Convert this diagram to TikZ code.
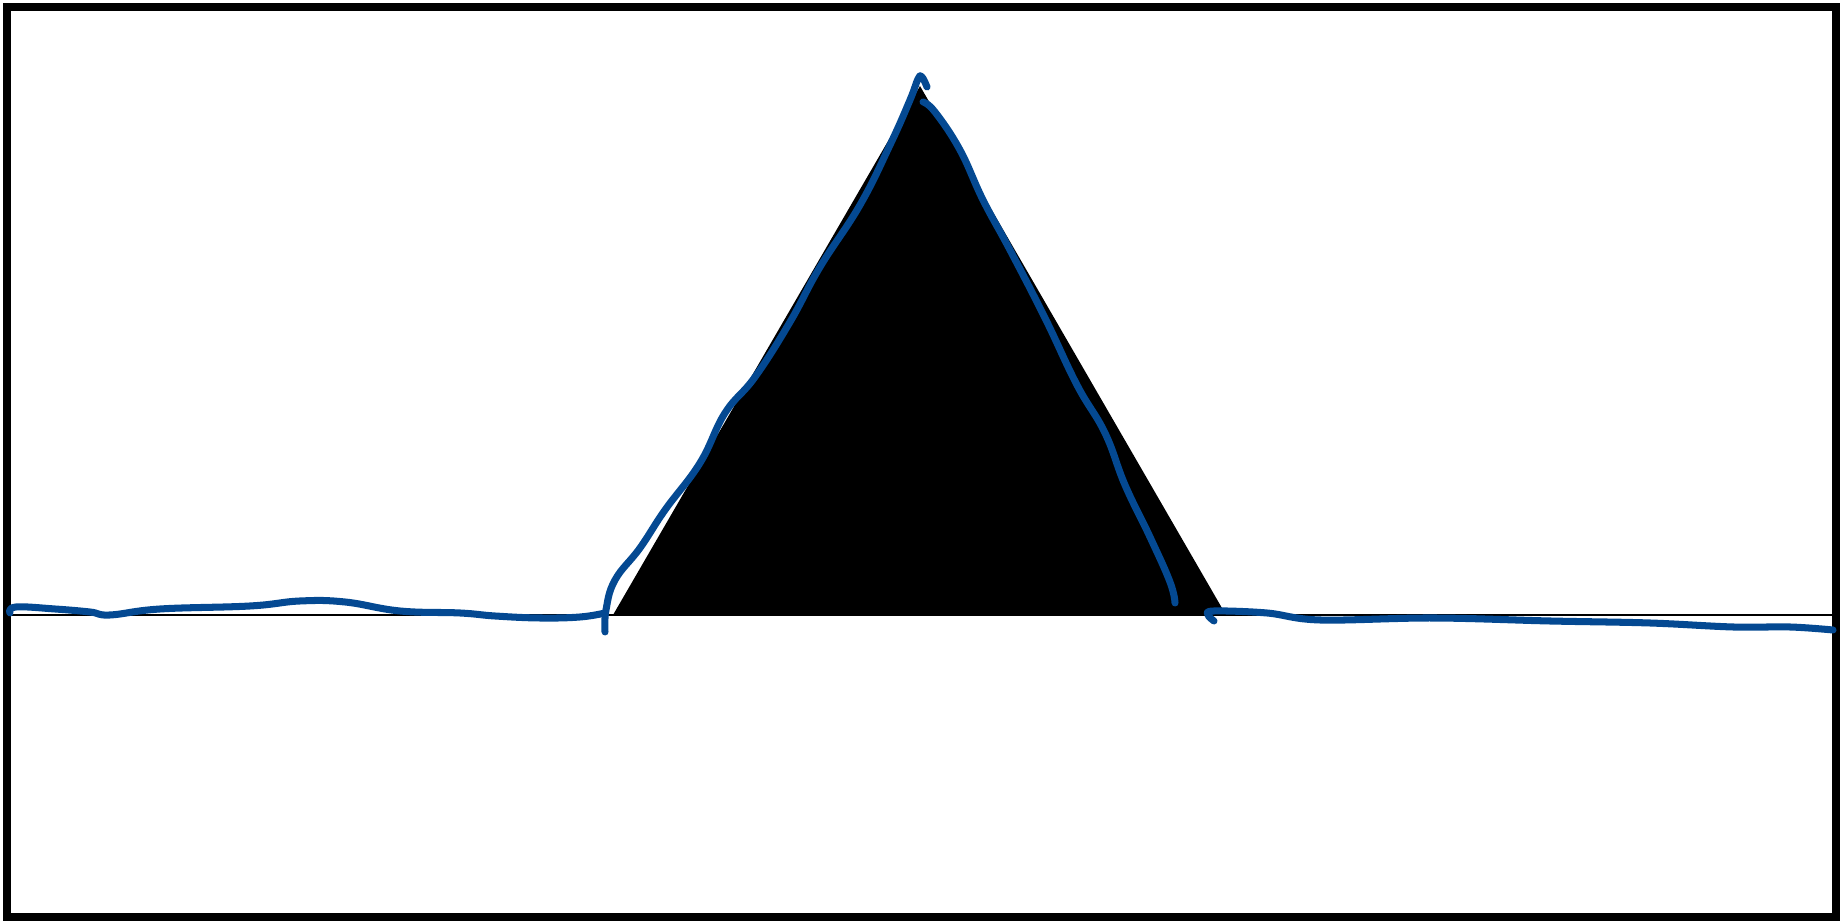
\documentclass[tikz,border=0pt]{standalone}
\usepackage{tikz}
\usetikzlibrary{calc}
\definecolor{penblue}{RGB}{4,73,146}
\tikzset{
  frame/.style={line width=2.1pt},
  ground/.style={line width=0.7pt},
  ink/.style={penblue, line width=2pt, line cap=round, line join=round},
}

\begin{document}
\begin{tikzpicture}[x=0.1mm, y=-0.1mm]
  % Page window
  \useasboundingbox (0,0) rectangle (1842,921);
  \draw[frame] (7,7) rectangle (1836,917);

  % Ground line
  \draw[ground] (7,615) -- (1836,615);

  % Solid triangle
  \coordinate (bl) at (613,615);
  \coordinate (br) at (1226,615);
  \coordinate (top) at (920,86);
  \fill[black] (bl) -- (top) -- (br) -- cycle;

  % Freehand trace: left ground
  \draw[ink] plot[smooth, tension=0.7] coordinates {
    (10,613) (16,607) (55,609) (90,612) (110,615) (160,609) (250,606)
    (300,601) (345,602) (400,611) (460,613) (495,616) (540,618)
    (580,617) (605,613)};

  % Freehand trace: left flank up to the tip
  \draw[ink] plot[smooth, tension=0.7] coordinates {
    (605,632) (606,610) (615,580) (640,548) (665,510) (700,463)
    (725,413) (755,377) (790,322) (820,267) (860,205) (890,145)
    (910,100) (918,79) (922,77) (927,87)};

  % Freehand trace: right flank
  \draw[ink] plot[smooth, tension=0.7] coordinates {
    (923,102) (935,112) (960,150) (983,200) (1010,250) (1045,318)
    (1077,385) (1105,433) (1125,485) (1150,537) (1170,582) (1175,603)};

  % Freehand trace: right ground
  \draw[ink] plot[smooth, tension=0.6] coordinates {
    (1214,621) (1208,615) (1214,611) (1267,613) (1320,620) (1433,618)
    (1550,621) (1650,623) (1733,627) (1790,627) (1833,630)};
\end{tikzpicture}
\end{document}
